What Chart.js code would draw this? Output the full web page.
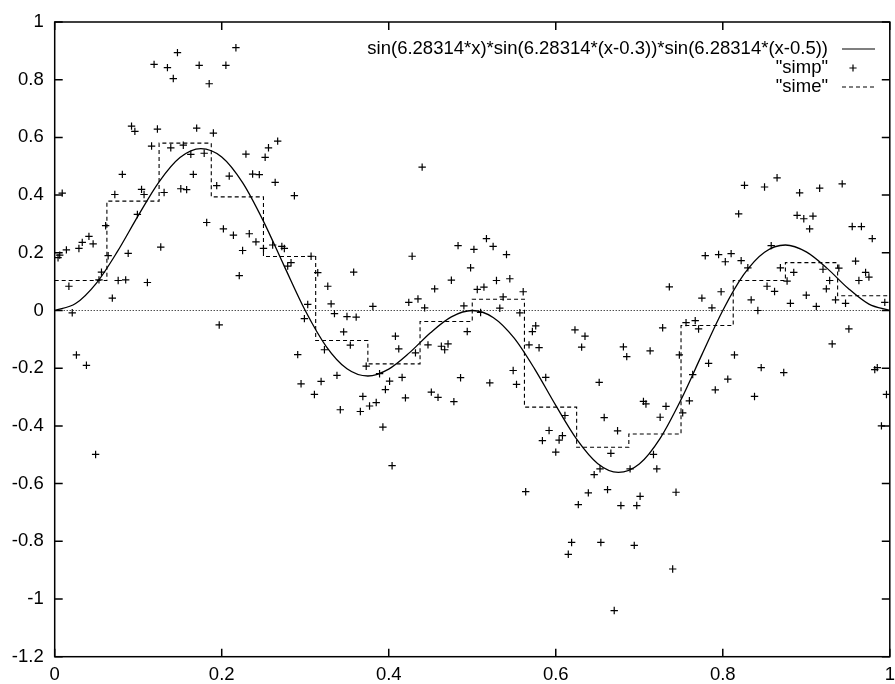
<!DOCTYPE html>
<html>
<head>
<meta charset="utf-8">
<script src="https://cdn.jsdelivr.net/npm/chart.js@4"></script>
<style>
  html, body { margin: 0; padding: 0; background: #fff; }
  #wrap { width: 895px; height: 684px; }
</style>
</head>
<body>
<div id="wrap"><canvas id="plot" width="895" height="684"></canvas></div>
<script>
Chart.defaults.font.size = 18.5;
Chart.defaults.font.family = '"Liberation Sans", Arial, sans-serif';
Chart.defaults.color = '#000';

// tick labels
const xTicks = [0, 0.2, 0.4, 0.6, 0.8, 1];
const yTicks = [-1.2, -1, -0.8, -0.6, -0.4, -0.2, 0, 0.2, 0.4, 0.6, 0.8, 1];

// sin(6.28314*x)*sin(6.28314*(x-0.3))*sin(6.28314*(x-0.5))
const curveX = [0, 0.025, 0.05, 0.075, 0.1, 0.125, 0.15, 0.175, 0.2, 0.225,
  0.25, 0.275, 0.3, 0.325, 0.35, 0.375, 0.4, 0.425, 0.45, 0.475,
  0.5, 0.525, 0.55, 0.575, 0.6, 0.625, 0.65, 0.675, 0.7, 0.725,
  0.75, 0.775, 0.8, 0.825, 0.85, 0.875, 0.9, 0.925, 0.95, 0.975, 1];
const curveY = [0, 0.024, 0.095, 0.204, 0.329, 0.446, 0.530, 0.561, 0.532, 0.443,
  0.309, 0.153, 0, -0.124, -0.202, -0.227, -0.203, -0.146, -0.077, -0.022,
  0, -0.024, -0.095, -0.204, -0.329, -0.446, -0.530, -0.561, -0.532, -0.443,
  -0.309, -0.153, 0, 0.124, 0.202, 0.227, 0.203, 0.146, 0.077, 0.022, 0];

// "simp" points
const simpX = [0.009, 0.119, 0.135, 0.147, 0.142, 0.173, 0.185, 0.205, 0.217, 0.092,
  0.096, 0.123, 0.170, 0.190, 0.116, 0.139, 0.154, 0.163, 0.179, 0.166,
  0.209, 0.229, 0.256, 0.267, 0.252, 0.237, 0.245, 0.264, 0.287, 0.081,
  0.072, 0.104, 0.107, 0.131, 0.151, 0.158, 0.194, 0.099, 0.061, 0.182,
  0.202, 0.214, 0.233, 0.004, 0.006, 0.014, 0.029, 0.033, 0.041, 0.046,
  0.017, 0.021, 0.026, 0.038, 0.053, 0.056, 0.064, 0.069, 0.076, 0.085,
  0.088, 0.111, 0.127, 0.197, 0.221, 0.225, 0.241, 0.250, 0.261, 0.272,
  0.275, 0.279, 0.283, 0.049, 0.440, 0.307, 0.315, 0.327, 0.358, 0.428,
  0.303, 0.331, 0.299, 0.335, 0.350, 0.361, 0.381, 0.346, 0.354, 0.323,
  0.291, 0.295, 0.319, 0.311, 0.338, 0.342, 0.366, 0.369, 0.377, 0.385,
  0.373, 0.389, 0.401, 0.396, 0.416, 0.420, 0.393, 0.408, 0.412, 0.432,
  0.424, 0.435, 0.443, 0.455, 0.475, 0.483, 0.502, 0.517, 0.525, 0.541,
  0.498, 0.506, 0.514, 0.529, 0.545, 0.561, 0.537, 0.490, 0.510, 0.533,
  0.557, 0.494, 0.447, 0.463, 0.467, 0.471, 0.486, 0.451, 0.459, 0.478,
  0.521, 0.549, 0.553, 0.576, 0.572, 0.568, 0.580, 0.588, 0.623, 0.635,
  0.631, 0.652, 0.611, 0.592, 0.584, 0.604, 0.608, 0.600, 0.404, 0.564,
  0.639, 0.627, 0.619, 0.615, 0.654, 0.666, 0.717, 0.653, 0.646, 0.689,
  0.721, 0.662, 0.701, 0.744, 0.678, 0.697, 0.694, 0.740, 0.670, 0.904,
  0.955, 0.966, 0.979, 0.858, 0.779, 0.795, 0.803, 0.810, 0.822, 0.830,
  0.869, 0.877, 0.885, 0.920, 0.939, 0.928, 0.924, 0.959, 0.971, 0.975,
  0.963, 0.736, 0.853, 0.862, 0.798, 0.775, 0.787, 0.834, 0.842, 0.881,
  0.900, 0.912, 0.935, 0.947, 0.994, 0.756, 0.767, 0.771, 0.728, 0.951,
  0.931, 0.681, 0.685, 0.713, 0.748, 0.783, 0.814, 0.846, 0.873, 0.982,
  0.985, 0.764, 0.806, 0.791, 0.838, 0.996, 0.705, 0.708, 0.732, 0.725,
  0.760, 0.752, 0.658, 0.674, 0.990, 0.826, 0.850, 0.865, 0.892, 0.916,
  0.943, 0.819, 0.889, 0.897, 0.908];
const simpY = [0.407, 0.853, 0.842, 0.894, 0.804, 0.850, 0.786, 0.850, 0.911, 0.639,
  0.621, 0.629, 0.632, 0.615, 0.570, 0.564, 0.573, 0.541, 0.545, 0.472,
  0.466, 0.542, 0.564, 0.587, 0.531, 0.473, 0.471, 0.444, 0.398, 0.472,
  0.402, 0.420, 0.402, 0.409, 0.422, 0.419, 0.433, 0.333, 0.294, 0.305,
  0.283, 0.261, 0.266, 0.183, 0.192, 0.210, 0.215, 0.236, 0.257, 0.231,
  0.084, -0.008, -0.154, -0.190, 0.106, 0.133, 0.190, 0.043, 0.104, 0.106,
  0.198, 0.097, 0.220, -0.050, 0.121, 0.208, 0.238, 0.215, 0.227, 0.222,
  0.215, 0.154, 0.166, -0.499, 0.497, 0.188, 0.131, 0.084, 0.133, 0.188,
  0.021, 0.023, -0.028, -0.011, -0.021, -0.023, 0.014, -0.074, -0.120, -0.136,
  -0.153, -0.254, -0.246, -0.291, -0.225, -0.344, -0.350, -0.298, -0.331, -0.319,
  -0.193, -0.219, -0.245, -0.274, -0.232, -0.303, -0.404, -0.089, -0.133, -0.147,
  0.028, 0.040, 0.009, 0.075, 0.105, 0.225, 0.212, 0.249, 0.222, 0.194,
  0.148, 0.073, 0.081, 0.104, 0.110, 0.065, 0.047, 0.016, -0.007, 0.008,
  -0.008, -0.073, -0.119, -0.124, -0.136, -0.116, -0.233, -0.283, -0.301, -0.316,
  -0.251, -0.208, -0.256, -0.053, -0.073, -0.119, -0.129, -0.232, -0.067, -0.089,
  -0.127, -0.249, -0.364, -0.416, -0.451, -0.449, -0.434, -0.491, -0.538, -0.628,
  -0.632, -0.673, -0.804, -0.845, -0.804, -0.495, -0.499, -0.549, -0.569, -0.549,
  -0.549, -0.621, -0.644, -0.630, -0.676, -0.676, -0.814, -0.896, -1.040, 0.283,
  0.291, 0.291, 0.249, 0.225, 0.190, 0.194, 0.169, 0.197, 0.173, 0.148,
  0.148, 0.102, 0.132, 0.143, 0.147, 0.104, 0.075, 0.171, 0.132, 0.116,
  0.104, 0.082, 0.084, 0.066, 0.065, 0.043, 0.009, 0.037, 0.000, 0.025,
  0.053, 0.014, 0.037, 0.025, 0.028, -0.042, -0.035, -0.064, -0.060, -0.064,
  -0.116, -0.126, -0.160, -0.140, -0.154, -0.183, -0.154, -0.198, -0.215, -0.205,
  -0.198, -0.222, -0.238, -0.275, -0.298, -0.291, -0.315, -0.324, -0.332, -0.370,
  -0.313, -0.355, -0.371, -0.417, -0.400, 0.434, 0.428, 0.460, 0.408, 0.424,
  0.439, 0.335, 0.330, 0.318, 0.327];

// "sime" step averages, one per bin of 1/16
const simeX = [0, 0.0625, 0.125, 0.1875, 0.25, 0.3125, 0.375, 0.4375,
  0.5, 0.5625, 0.625, 0.6875, 0.75, 0.8125, 0.875, 0.9375, 1];
const simeY = [0.104, 0.379, 0.580, 0.394, 0.187, -0.104, -0.185, -0.038,
  0.039, -0.335, -0.474, -0.428, -0.052, 0.104, 0.166, 0.051, 0.051];

const xy = (xs, ys) => xs.map((x, i) => ({ x: x, y: ys[i] }));

// gnuplot-like frame: zero axis, border, inward ticks, key
const gnuplotFrame = {
  id: 'gnuplotFrame',
  beforeDatasetsDraw(chart) {
    const { ctx, chartArea: a } = chart;
    const y0 = chart.scales.y.getPixelForValue(0);
    ctx.save();
    ctx.strokeStyle = '#000';
    ctx.lineWidth = 1;
    ctx.setLineDash([1, 2]);
    ctx.beginPath();
    ctx.moveTo(a.left, y0);
    ctx.lineTo(a.right, y0);
    ctx.stroke();
    ctx.restore();
  },
  afterDatasetsDraw(chart) {
    const { ctx, chartArea: a } = chart;
    const sx = chart.scales.x, sy = chart.scales.y;
    const len = 8;
    ctx.save();
    ctx.strokeStyle = '#000';
    ctx.lineWidth = 1.5;
    ctx.beginPath();
    xTicks.forEach(v => {
      const px = sx.getPixelForValue(v);
      ctx.moveTo(px, a.bottom); ctx.lineTo(px, a.bottom - len);
      ctx.moveTo(px, a.top); ctx.lineTo(px, a.top + len);
    });
    yTicks.forEach(v => {
      const py = sy.getPixelForValue(v);
      ctx.moveTo(a.left, py); ctx.lineTo(a.left + len, py);
      ctx.moveTo(a.right, py); ctx.lineTo(a.right - len, py);
    });
    ctx.stroke();
    ctx.strokeRect(a.left, a.top, a.right - a.left, a.bottom - a.top);
    ctx.restore();
  },
  afterDraw(chart) {
    const ctx = chart.ctx;
    const ds = chart.data.datasets;
    const textRight = 828, x1 = 842, x2 = 875;
    const rows = [49, 68, 87];
    ctx.save();
    ctx.font = '18.5px "Liberation Sans", Arial, sans-serif';
    ctx.fillStyle = '#000';
    ctx.textAlign = 'right';
    ctx.textBaseline = 'middle';
    ds.forEach((d, i) => ctx.fillText(d.label, textRight, rows[i]));
    ctx.strokeStyle = '#000';
    ctx.lineWidth = 1.2;
    ctx.beginPath();
    ctx.moveTo(x1, rows[0]); ctx.lineTo(x2, rows[0]);
    ctx.stroke();
    const cx = 853, r = 3.6;
    ctx.lineWidth = 1.2;
    ctx.beginPath();
    ctx.moveTo(cx - r, rows[1]); ctx.lineTo(cx + r, rows[1]);
    ctx.moveTo(cx, rows[1] - r); ctx.lineTo(cx, rows[1] + r);
    ctx.stroke();
    ctx.lineWidth = 1.1;
    ctx.setLineDash([4, 3]);
    ctx.beginPath();
    ctx.moveTo(x1, rows[2]); ctx.lineTo(x2, rows[2]);
    ctx.stroke();
    ctx.restore();
  }
};

const ctx = document.getElementById('plot');
const config = {
  data: {
    datasets: [
      {
        type: 'line',
        label: 'sin(6.28314*x)*sin(6.28314*(x-0.3))*sin(6.28314*(x-0.5))',
        data: xy(curveX, curveY),
        borderColor: '#000',
        borderWidth: 1.3,
        pointRadius: 0,
        cubicInterpolationMode: 'monotone',
        fill: false,
      },
      {
        type: 'scatter',
        label: '"simp"',
        data: xy(simpX, simpY),
        pointStyle: 'cross',
        pointRadius: 3.7,
        borderColor: '#000',
        backgroundColor: '#000',
        borderWidth: 1.2,
      },
      {
        type: 'line',
        label: '"sime"',
        data: xy(simeX, simeY),
        stepped: 'before',
        borderColor: '#000',
        borderWidth: 1.1,
        borderDash: [4, 3],
        pointRadius: 0,
        fill: false,
      },
    ],
  },
  options: {
    responsive: false,
    animation: false,
    events: [],
    layout: { padding: { top: 22, left: 0, right: 0, bottom: 0 } },
    plugins: {
      legend: { display: false },
      tooltip: { enabled: false },
    },
    scales: {
      x: {
        type: 'linear',
        min: 0,
        max: 1,
        grid: { display: false, drawTicks: false },
        border: { display: false },
        afterBuildTicks: s => { s.ticks = xTicks.map(v => ({ value: v })); },
        ticks: { padding: 7, maxRotation: 0, autoSkip: false, callback: v => String(v) },
        afterFit: s => { s.height = 27.3; s.paddingLeft = 0; s.paddingRight = 0; },
      },
      y: {
        type: 'linear',
        min: -1.2,
        max: 1,
        grid: { display: false, drawTicks: false },
        border: { display: false },
        afterBuildTicks: s => { s.ticks = yTicks.map(v => ({ value: v })); },
        ticks: { padding: 11, autoSkip: false, callback: v => String(v) },
        afterFit: s => { s.width = 54.7; s.paddingTop = 0; s.paddingBottom = 0; },
      },
    },
  },
  plugins: [gnuplotFrame],
};
const myChart = new Chart(ctx, config);
</script>
</body>
</html>
